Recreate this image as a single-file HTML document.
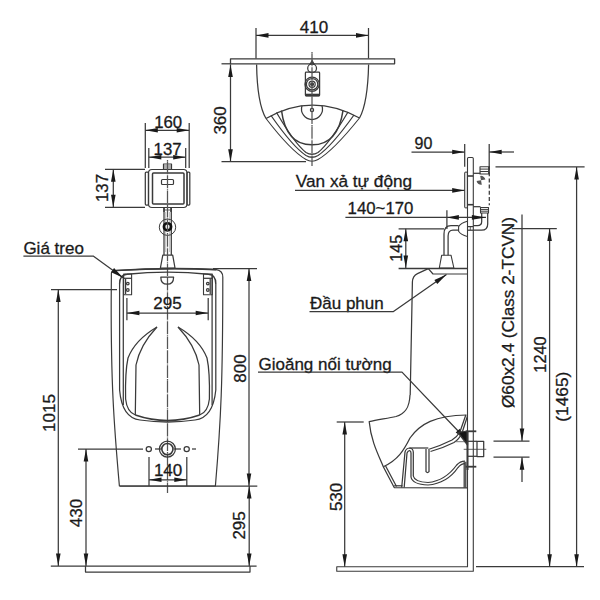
<!DOCTYPE html>
<html><head><meta charset="utf-8"><style>
html,body{margin:0;padding:0;background:#fff;}
svg{display:block;}
</style></head><body>
<svg width="600" height="600" viewBox="0 0 600 600">
<rect width="600" height="600" fill="#fff"/>
<g fill="none" stroke="#3a3a3a" stroke-linecap="butt" stroke-linejoin="round">
<line x1="256" y1="28" x2="256" y2="58.4" stroke-width="1.25" />
<line x1="368.5" y1="28" x2="368.5" y2="58.4" stroke-width="1.25" />
<line x1="256" y1="35.4" x2="368.5" y2="35.4" stroke-width="1.25" />
<path d="M256.00,35.40 L268.50,33.10 L268.50,37.70 Z" fill="#1a1a1a" stroke="none"/>
<path d="M368.50,35.40 L356.00,37.70 L356.00,33.10 Z" fill="#1a1a1a" stroke="none"/>
<text fill="#1a1a1a" stroke="#1a1a1a" stroke-width="0.3" font-family="Liberation Sans, sans-serif" dominant-baseline="alphabetic" x="314" y="32.5" font-size="17" text-anchor="middle" >410</text>
<rect x="230.5" y="58.8" width="164.10" height="5.00" rx="0" stroke-width="1.3" />
<line x1="221.5" y1="63.8" x2="230.5" y2="63.8" stroke-width="1.25" />
<line x1="230.5" y1="64.4" x2="230.5" y2="161.7" stroke-width="1.25" />
<path d="M230.50,64.40 L232.80,76.90 L228.20,76.90 Z" fill="#1a1a1a" stroke="none"/>
<path d="M230.50,161.70 L228.20,149.20 L232.80,149.20 Z" fill="#1a1a1a" stroke="none"/>
<line x1="221.5" y1="161.7" x2="306" y2="161.7" stroke-width="1.25" />
<text fill="#1a1a1a" stroke="#1a1a1a" stroke-width="0.3" font-family="Liberation Sans, sans-serif" dominant-baseline="alphabetic" x="226.4" y="120.4" font-size="17" text-anchor="middle" transform="rotate(-90 226.4 120.4)" >360</text>
<path d="M256.6,64.4 C257,92 260,108 266,118.5" stroke-width="1.25" />
<path d="M368.6,64.4 C368,92 365,108 359.5,118" stroke-width="1.25" />
<path d="M266,118.5 Q312,92 359.5,118" stroke-width="1.25" />
<path d="M266,118.5 Q291,151 306,159.5 Q312,163 318,159.5 Q333,151 359.5,118" stroke-width="1.1" />
<path d="M271,115.5 Q293,147 306,155.5 Q312,159 318,155.5 Q331,147 354,115" stroke-width="1.25" />
<path d="M276.5,112.5 Q295,144 306,152.5 Q312,156 318,152.5 Q329,144 348,112" stroke-width="1.25" />
<path d="M281.5,110.5 Q286,145 312,144.8 Q338,145 343,110.5" stroke-width="1.5" />
<path d="M302,105.8 A10.5,10.5 0 1 0 322,105.8" stroke-width="1.25" />
<circle cx="312" cy="110" r="1.6" stroke-width="1.25" />
<circle cx="312.1" cy="68.2" r="4.4" stroke-width="1.25" />
<path d="M310.3,64 L312.1,60.5 L313.9,64 Z" stroke-width="1.25" fill="#111"/>
<rect x="305.4" y="72.1" width="14.20" height="23.70" rx="0.8" stroke-width="1.25" />
<line x1="305.4" y1="95" x2="319.6" y2="95" stroke-width="2.6" />
<circle cx="312.1" cy="84.2" r="7.1" stroke-width="1.25" />
<circle cx="312.1" cy="84.2" r="5.7" stroke-width="1.25" />
<circle cx="312.1" cy="84.2" r="3.1" stroke-width="1.2" />
<circle cx="312.1" cy="84.2" r="1.4" stroke-width="1.25" fill="#222"/>
<line x1="312" y1="52" x2="312" y2="166" stroke-width="1.25" stroke-dasharray="12.5,1,0.8,0.3" stroke-dashoffset="13.4" stroke="#555"/>
<line x1="145.3" y1="123" x2="145.3" y2="168" stroke-width="1.25" />
<line x1="189.2" y1="123" x2="189.2" y2="168" stroke-width="1.25" />
<line x1="145.3" y1="130.3" x2="189.2" y2="130.3" stroke-width="1.25" />
<path d="M145.30,130.30 L157.80,128.00 L157.80,132.60 Z" fill="#1a1a1a" stroke="none"/>
<path d="M189.20,130.30 L176.70,132.60 L176.70,128.00 Z" fill="#1a1a1a" stroke="none"/>
<text fill="#1a1a1a" stroke="#1a1a1a" stroke-width="0.3" font-family="Liberation Sans, sans-serif" dominant-baseline="alphabetic" x="168.2" y="127.8" font-size="16.8" text-anchor="middle" >160</text>
<line x1="148.8" y1="148" x2="148.8" y2="168" stroke-width="1.25" />
<line x1="185.7" y1="148" x2="185.7" y2="168" stroke-width="1.25" />
<line x1="148.8" y1="157.2" x2="185.7" y2="157.2" stroke-width="1.25" />
<path d="M148.80,157.20 L161.30,154.90 L161.30,159.50 Z" fill="#1a1a1a" stroke="none"/>
<path d="M185.70,157.20 L173.20,159.50 L173.20,154.90 Z" fill="#1a1a1a" stroke="none"/>
<text fill="#1a1a1a" stroke="#1a1a1a" stroke-width="0.3" font-family="Liberation Sans, sans-serif" dominant-baseline="alphabetic" x="167.6" y="154.5" font-size="16.8" text-anchor="middle" >137</text>
<rect x="145.3" y="172" width="3.20" height="33.00" rx="1" stroke-width="1.25" />
<rect x="187" y="172" width="2.80" height="33.00" rx="1" stroke-width="1.25" />
<rect x="148.5" y="169.5" width="38.50" height="38.00" rx="3.5" stroke-width="1.2" />
<rect x="152.5" y="173" width="31.50" height="31.00" rx="1" stroke-width="1.5" />
<rect x="161.5" y="179.5" width="12.00" height="5.00" rx="1" stroke-width="1.2" />
<rect x="163.5" y="164" width="8.00" height="5.50" rx="0" stroke-width="1.2" />
<line x1="163.5" y1="166" x2="171.5" y2="166" stroke-width="0.8" />
<line x1="163.5" y1="168" x2="171.5" y2="168" stroke-width="0.8" />
<line x1="164" y1="207.5" x2="164" y2="212" stroke-width="1.4" />
<line x1="171" y1="207.5" x2="171" y2="212" stroke-width="1.4" />
<line x1="164" y1="210" x2="171" y2="210" stroke-width="0.8" />
<line x1="105" y1="169.3" x2="145" y2="169.3" stroke-width="1.25" />
<line x1="105" y1="207.3" x2="145" y2="207.3" stroke-width="1.25" />
<line x1="113.3" y1="169.3" x2="113.3" y2="207.3" stroke-width="1.25" />
<path d="M113.30,169.30 L115.60,181.80 L111.00,181.80 Z" fill="#1a1a1a" stroke="none"/>
<path d="M113.30,207.30 L111.00,194.80 L115.60,194.80 Z" fill="#1a1a1a" stroke="none"/>
<text fill="#1a1a1a" stroke="#1a1a1a" stroke-width="0.3" font-family="Liberation Sans, sans-serif" dominant-baseline="alphabetic" x="108" y="188" font-size="16.8" text-anchor="middle" transform="rotate(-90 108 188)" >137</text>
<line x1="164" y1="207.3" x2="164" y2="255" stroke-width="1.25" />
<line x1="171.3" y1="207.3" x2="171.3" y2="255" stroke-width="1.25" />
<line x1="165.6" y1="212" x2="165.6" y2="252" stroke-width="0.5" stroke="#888"/>
<line x1="169.6" y1="212" x2="169.6" y2="252" stroke-width="0.5" stroke="#888"/>
<circle cx="167.5" cy="227.2" r="8.2" stroke-width="1" />
<circle cx="167.5" cy="226.8" r="3.6" stroke-width="2.6" stroke="#111"/>
<path d="M162.8,255.2 L172.7,255.2 L175,268 L160.4,268 Z" stroke-width="1.25" />
<line x1="167.5" y1="160" x2="167.5" y2="493" stroke-width="1.25" stroke-dasharray="12.5,1,0.8,0.3" stroke-dashoffset="13.4" stroke="#555"/>
<path d="M119.4,486 C113.5,420 111,380 111.2,300 L111.4,273 Q111.6,270.5 116,270.5 Q167.5,267.2 216.3,269.6 Q222.8,270.5 222.8,277.2 C222.8,380 221,420 215.4,486 Z" stroke-width="1.2" />
<path d="M116,270.5 Q167.5,267.2 216.3,269.6" stroke-width="1.7" />
<path d="M119.6,284 Q119.6,274.5 127,274.2 Q167.5,270 208.5,274.2 Q215.8,274.5 215.8,284" stroke-width="1.4" />
<path d="M119.6,284 L119.6,390 Q122,418 140,420 Q167.5,424 195,420 Q213,418 215.8,390 L215.8,284" stroke-width="1.25" />
<line x1="123.3" y1="276" x2="123.3" y2="405" stroke-width="1.25" />
<line x1="212.1" y1="276" x2="212.1" y2="405" stroke-width="1.25" />
<rect x="123.7" y="274" width="7.90" height="20.70" rx="0" stroke-width="1.1" />
<rect x="203.5" y="274" width="8.80" height="20.70" rx="0" stroke-width="1.1" />
<line x1="123.7" y1="278.3" x2="131.6" y2="278.3" stroke-width="1.25" />
<line x1="203.5" y1="278.3" x2="212.3" y2="278.3" stroke-width="1.25" />
<line x1="125.6" y1="279" x2="125.6" y2="294" stroke-width="1.25" />
<line x1="210.2" y1="279" x2="210.2" y2="294" stroke-width="1.25" />
<circle cx="127.8" cy="283.6" r="1.3" stroke-width="1.25" />
<circle cx="127.8" cy="290" r="1.3" stroke-width="1.25" />
<circle cx="207.8" cy="283.6" r="1.3" stroke-width="1.25" />
<circle cx="207.8" cy="290" r="1.3" stroke-width="1.25" />
<path d="M160.8,277.2 L173.6,277.2 Q173.6,284.2 167.2,284.2 Q160.8,284.2 160.8,277.2 Z" stroke-width="1.25" />
<path d="M157,327 Q135,340 128,358 Q125,372 125.6,399 Q127,412 135.3,415" stroke-width="1.25" />
<path d="M157,327 Q140,345 136,365 L135.3,415" stroke-width="1.25" />
<path d="M178,327 Q200,340 207,358 Q210,372 209.4,399 Q208,412 199.7,415" stroke-width="1.25" />
<path d="M178,327 Q195,345 199,365 L199.7,415" stroke-width="1.25" />
<path d="M135.3,415 Q167.5,426 199.7,415" stroke-width="1.4" />
<line x1="126.9" y1="298" x2="126.9" y2="320.3" stroke-width="1.25" />
<line x1="208.2" y1="298" x2="208.2" y2="320.3" stroke-width="1.25" />
<line x1="126.9" y1="313" x2="208.2" y2="313" stroke-width="1.25" />
<path d="M126.90,313.00 L139.40,310.70 L139.40,315.30 Z" fill="#1a1a1a" stroke="none"/>
<path d="M208.20,313.00 L195.70,315.30 L195.70,310.70 Z" fill="#1a1a1a" stroke="none"/>
<text fill="#1a1a1a" stroke="#1a1a1a" stroke-width="0.3" font-family="Liberation Sans, sans-serif" dominant-baseline="alphabetic" x="167.5" y="309.2" font-size="17" text-anchor="middle" >295</text>
<circle cx="167.4" cy="449.1" r="8" stroke-width="1.25" />
<circle cx="167.4" cy="449.1" r="5.6" stroke-width="1.6" />
<circle cx="148.8" cy="449.1" r="2.6" stroke-width="1.25" />
<circle cx="186.7" cy="449.1" r="2.6" stroke-width="1.25" />
<line x1="78" y1="449" x2="143" y2="449" stroke-width="1.25" />
<line x1="155" y1="449" x2="161" y2="449" stroke-width="1.25" />
<line x1="174" y1="449" x2="181" y2="449" stroke-width="1.25" />
<line x1="192" y1="449" x2="196" y2="449" stroke-width="1.25" />
<line x1="149" y1="457" x2="149" y2="486" stroke-width="1.25" />
<line x1="186.8" y1="457" x2="186.8" y2="486" stroke-width="1.25" />
<line x1="149" y1="479.8" x2="186.8" y2="479.8" stroke-width="1.25" />
<path d="M149.00,479.80 L161.50,477.50 L161.50,482.10 Z" fill="#1a1a1a" stroke="none"/>
<path d="M186.80,479.80 L174.30,482.10 L174.30,477.50 Z" fill="#1a1a1a" stroke="none"/>
<text fill="#1a1a1a" stroke="#1a1a1a" stroke-width="0.3" font-family="Liberation Sans, sans-serif" dominant-baseline="alphabetic" x="168.1" y="475.8" font-size="17" text-anchor="middle" >140</text>
<line x1="119.8" y1="486" x2="257.3" y2="486" stroke-width="1.25" />
<text fill="#1a1a1a" stroke="#1a1a1a" stroke-width="0.3" font-family="Liberation Sans, sans-serif" dominant-baseline="alphabetic" x="23.4" y="253.8" font-size="17" text-anchor="start" >Giá treo</text>
<path d="M23.4,256 L93.2,256 L123.1,277.8" stroke-width="1.25" />
<path d="M123.10,277.80 L111.12,272.16 L114.07,268.12 Z" fill="#1a1a1a" stroke="none"/>
<line x1="51" y1="289.6" x2="117" y2="289.6" stroke-width="1.25" />
<line x1="58.3" y1="289.6" x2="58.3" y2="566" stroke-width="1.25" />
<path d="M58.30,289.60 L60.60,302.10 L56.00,302.10 Z" fill="#1a1a1a" stroke="none"/>
<path d="M58.30,566.00 L56.00,553.50 L60.60,553.50 Z" fill="#1a1a1a" stroke="none"/>
<text fill="#1a1a1a" stroke="#1a1a1a" stroke-width="0.3" font-family="Liberation Sans, sans-serif" dominant-baseline="alphabetic" x="54.8" y="413" font-size="17" text-anchor="middle" transform="rotate(-90 54.8 413)" >1015</text>
<line x1="86" y1="449" x2="86" y2="566" stroke-width="1.25" />
<path d="M86.00,449.00 L88.30,461.50 L83.70,461.50 Z" fill="#1a1a1a" stroke="none"/>
<path d="M86.00,566.00 L83.70,553.50 L88.30,553.50 Z" fill="#1a1a1a" stroke="none"/>
<text fill="#1a1a1a" stroke="#1a1a1a" stroke-width="0.3" font-family="Liberation Sans, sans-serif" dominant-baseline="alphabetic" x="81.6" y="513" font-size="17" text-anchor="middle" transform="rotate(-90 81.6 513)" >430</text>
<line x1="50.8" y1="566" x2="256.6" y2="566" stroke-width="1.25" />
<path d="M85.5,566 L85.5,572 L250,572 L250,566" stroke-width="1.25" />
<line x1="213" y1="268.5" x2="257" y2="268.5" stroke-width="1.25" />
<line x1="249" y1="268.5" x2="249" y2="486" stroke-width="1.25" />
<path d="M249.00,268.50 L251.30,281.00 L246.70,281.00 Z" fill="#1a1a1a" stroke="none"/>
<path d="M249.00,486.00 L246.70,473.50 L251.30,473.50 Z" fill="#1a1a1a" stroke="none"/>
<text fill="#1a1a1a" stroke="#1a1a1a" stroke-width="0.3" font-family="Liberation Sans, sans-serif" dominant-baseline="alphabetic" x="245.8" y="368.5" font-size="17" text-anchor="middle" transform="rotate(-90 245.8 368.5)" >800</text>
<line x1="249.2" y1="486" x2="249.2" y2="566" stroke-width="1.25" />
<path d="M249.20,486.00 L251.50,498.50 L246.90,498.50 Z" fill="#1a1a1a" stroke="none"/>
<path d="M249.20,566.00 L246.90,553.50 L251.50,553.50 Z" fill="#1a1a1a" stroke="none"/>
<text fill="#1a1a1a" stroke="#1a1a1a" stroke-width="0.3" font-family="Liberation Sans, sans-serif" dominant-baseline="alphabetic" x="245.5" y="525.4" font-size="17" text-anchor="middle" transform="rotate(-90 245.5 525.4)" >295</text>
<path d="M467.5,566.7 L467.5,158.5 Q467.5,157.5 468.5,157.5 L472.3,157.5 Q473.3,157.5 473.3,158.5 L473.3,571.2 L336.75,571.2 L336.75,566.7 Z" stroke-width="1.1" />
<line x1="476" y1="566.7" x2="584" y2="566.7" stroke-width="1.25" />
<line x1="464.7" y1="144" x2="464.7" y2="166.7" stroke-width="1.25" />
<line x1="489.2" y1="144" x2="489.2" y2="174.2" stroke-width="1.25" />
<line x1="411.5" y1="152" x2="464.7" y2="152" stroke-width="1.25" />
<path d="M464.70,152.00 L452.20,154.30 L452.20,149.70 Z" fill="#1a1a1a" stroke="none"/>
<line x1="489.2" y1="152" x2="514" y2="152" stroke-width="1.25" />
<path d="M489.20,152.00 L501.70,149.70 L501.70,154.30 Z" fill="#1a1a1a" stroke="none"/>
<text fill="#1a1a1a" stroke="#1a1a1a" stroke-width="0.3" font-family="Liberation Sans, sans-serif" dominant-baseline="alphabetic" x="423.5" y="148.5" font-size="16" text-anchor="middle" >90</text>
<rect x="464.7" y="172" width="2.70" height="36.00" rx="1.2" stroke-width="1.1" />
<line x1="467.5" y1="176" x2="473.3" y2="176" stroke-width="1.6" />
<line x1="467.5" y1="204.7" x2="473.3" y2="204.7" stroke-width="1.6" />
<line x1="473.3" y1="173.3" x2="480.5" y2="173.3" stroke-width="1.25" />
<line x1="473.3" y1="206.7" x2="480.5" y2="206.7" stroke-width="1.25" />
<line x1="489.3" y1="166" x2="489.3" y2="205.3" stroke-width="1.25" stroke-dasharray="4,2.2"/>
<rect x="480" y="166.7" width="8.70" height="7.30" rx="0" stroke-width="1.1" />
<line x1="480" y1="169.1" x2="488.7" y2="169.1" stroke-width="1" />
<line x1="480" y1="171.5" x2="488.7" y2="171.5" stroke-width="1" />
<rect x="480.5" y="207.5" width="8.00" height="5.50" rx="0" stroke-width="1.1" />
<line x1="480.5" y1="209.4" x2="488.5" y2="209.4" stroke-width="1" />
<line x1="480.5" y1="211.2" x2="488.5" y2="211.2" stroke-width="1" />
<path d="M481,180.3 L480.2,175.9 A4.5,4.5 0 0 1 485.4,179.5 Z M481,180.3 L476.6,181.1 A4.5,4.5 0 0 0 481.8,184.7 Z" stroke-width="1.25" fill="#555" stroke="none"/>
<path d="M487.7,213 L487.7,224 Q487.7,230.2 481.5,230.2 L473.3,230.2" stroke-width="1.25" />
<path d="M481.7,213 L481.7,221.5 Q481.7,225.6 477.5,225.6 L473.3,225.6" stroke-width="1.25" />
<line x1="467.5" y1="226.6" x2="473.3" y2="226.6" stroke-width="1.25" />
<line x1="467.5" y1="230.2" x2="473.3" y2="230.2" stroke-width="1.25" />
<line x1="470.3" y1="226.6" x2="470.3" y2="230.2" stroke-width="0.8" />
<line x1="495.5" y1="166.8" x2="584.6" y2="166.8" stroke-width="1.25" />
<text fill="#1a1a1a" stroke="#1a1a1a" stroke-width="0.3" font-family="Liberation Sans, sans-serif" dominant-baseline="alphabetic" x="295.8" y="187" font-size="17.2" text-anchor="start" >Van xả tự động</text>
<line x1="295" y1="190.4" x2="464.7" y2="190.4" stroke-width="1.25" />
<path d="M464.70,190.40 L452.20,192.70 L452.20,188.10 Z" fill="#1a1a1a" stroke="none"/>
<text fill="#1a1a1a" stroke="#1a1a1a" stroke-width="0.3" font-family="Liberation Sans, sans-serif" dominant-baseline="alphabetic" x="347.6" y="214" font-size="16.8" text-anchor="start" >140~170</text>
<line x1="345.4" y1="217.4" x2="486" y2="217.4" stroke-width="1.25" />
<path d="M446.90,217.40 L458.90,215.10 L458.90,219.70 Z" fill="#1a1a1a" stroke="none"/>
<path d="M485.90,217.40 L471.90,219.70 L471.90,215.10 Z" fill="#1a1a1a" stroke="none"/>
<line x1="446.9" y1="210.2" x2="446.9" y2="228.9" stroke-width="1.25" />
<path d="M467.3,221.3 Q461,223 458.6,226.6 L458.6,231.3 Q461,235 467.3,236.5" stroke-width="1.1" />
<path d="M458.6,225.6 L451,225.6 Q444,225.6 444,234 L444,255.2" stroke-width="1.25" />
<path d="M458.6,230 L453,230 Q448.1,230 448.1,236 L448.1,255.2" stroke-width="1.25" />
<path d="M441.7,255.2 L451,255.2 L453.9,268 L439.3,268 Z" stroke-width="1.1" />
<line x1="398.6" y1="228.9" x2="444" y2="228.9" stroke-width="1.25" />
<line x1="398.6" y1="268.6" x2="467.5" y2="268.6" stroke-width="1.5" />
<line x1="405.8" y1="228.7" x2="405.8" y2="268" stroke-width="1.25" />
<path d="M405.80,228.70 L408.10,241.20 L403.50,241.20 Z" fill="#1a1a1a" stroke="none"/>
<path d="M405.80,268.00 L403.50,255.50 L408.10,255.50 Z" fill="#1a1a1a" stroke="none"/>
<text fill="#1a1a1a" stroke="#1a1a1a" stroke-width="0.3" font-family="Liberation Sans, sans-serif" dominant-baseline="alphabetic" x="402" y="248.3" font-size="16" text-anchor="middle" transform="rotate(-90 402 248.3)" >145</text>
<path d="M428.3,268.6 L417.5,273.6 Q412.6,276 412.4,282 L410.2,395" stroke-width="1.25" />
<path d="M428.3,268.6 L433,274 L467.5,274" stroke-width="1.2" />
<text fill="#1a1a1a" stroke="#1a1a1a" stroke-width="0.3" font-family="Liberation Sans, sans-serif" dominant-baseline="alphabetic" x="310" y="309.2" font-size="17" text-anchor="start" >Đầu phun</text>
<path d="M309.5,311.7 L393.1,311.7 L446.5,274.5" stroke-width="1.25" />
<path d="M446.50,274.50 L437.26,283.98 L434.40,279.88 Z" fill="#1a1a1a" stroke="none"/>
<text fill="#1a1a1a" stroke="#1a1a1a" stroke-width="0.3" font-family="Liberation Sans, sans-serif" dominant-baseline="alphabetic" x="258.5" y="370.1" font-size="17" text-anchor="start" >Gioăng nối tường</text>
<path d="M258,372.1 L402,372.1 L466.7,440" stroke-width="1.25" />
<path d="M466.70,440.00 L455.70,432.52 L459.76,428.66 Z" fill="#1a1a1a" stroke="none"/>
<path d="M410,395 C409.5,408 405,414 396,416.5 C388,418.5 378,419.5 369.2,421.7 C371,440 377,452 383.3,466.7 L394.2,487.5 L467.5,487.8" stroke-width="1.25" />
<line x1="385.6" y1="466" x2="396.5" y2="486.5" stroke-width="1.25" />
<path d="M383.3,466.7 C398,460 404,450 410,438 C420,424 435,415.5 466.5,415" stroke-width="1.25" />
<path d="M465.8,415 L460,431.7 Q457,437 452,440 Q440,446 428.3,449.5" stroke-width="1.25" />
<path d="M467.5,416 L462,433 Q459,439.5 454,442.5 Q442,448.5 430.5,451.5" stroke-width="1.25" />
<line x1="455.8" y1="441.7" x2="467.5" y2="441.7" stroke-width="1" stroke="#777"/>
<path d="M458,432.5 L467.5,431 L467.5,445 Z" stroke-width="1.25" fill="#151515"/>
<path d="M401.7,487.5 L405,452 Q406,448.3 409.5,448 Q413,448.3 413.3,452 L413.3,476 Q414.5,482 428,482.5 Q445,481 456.7,465 Q460,461 465,461" stroke-width="1.25" />
<path d="M404.2,487.5 L407,453 Q408,450.5 409.5,450.5 Q411,451 411,453 L411,477 Q412.5,484.5 428,485 Q447,483.5 458,467.5 Q461,463.5 465,463.5" stroke-width="1.25" />
<path d="M409.5,448 L428.3,448" stroke-width="1.25" />
<path d="M426,449 L426,471.7 Q427.5,473.5 429,471.7 L429,450" stroke-width="1.25" />
<line x1="394.2" y1="485.8" x2="402.5" y2="485.8" stroke-width="1.25" />
<line x1="464.2" y1="461.7" x2="464.2" y2="487.8" stroke-width="1.25" />
<line x1="465.8" y1="461.7" x2="465.8" y2="487.8" stroke-width="1.25" />
<line x1="465.7" y1="431.3" x2="476.3" y2="431.3" stroke-width="1.8" />
<line x1="465.7" y1="466.7" x2="476.3" y2="466.7" stroke-width="1.8" />
<line x1="467.5" y1="432" x2="467.5" y2="470" stroke-width="2" />
<line x1="463.7" y1="449.3" x2="486.3" y2="449.3" stroke-width="0.8" />
<rect x="477" y="441.3" width="6.70" height="15.20" rx="0" stroke-width="1.25" />
<line x1="467.5" y1="441.3" x2="477" y2="441.3" stroke-width="1.25" />
<line x1="467.5" y1="456.3" x2="477" y2="456.3" stroke-width="1.25" />
<line x1="336.7" y1="422" x2="363.7" y2="422" stroke-width="1.25" />
<line x1="344.7" y1="422" x2="344.7" y2="566.7" stroke-width="1.25" />
<path d="M344.70,422.00 L347.00,434.50 L342.40,434.50 Z" fill="#1a1a1a" stroke="none"/>
<path d="M344.70,566.70 L342.40,554.20 L347.00,554.20 Z" fill="#1a1a1a" stroke="none"/>
<text fill="#1a1a1a" stroke="#1a1a1a" stroke-width="0.3" font-family="Liberation Sans, sans-serif" dominant-baseline="alphabetic" x="341.6" y="496.9" font-size="17" text-anchor="middle" transform="rotate(-90 341.6 496.9)" >530</text>
<line x1="493.5" y1="441" x2="529.5" y2="441" stroke-width="1.25" />
<line x1="493.5" y1="457.2" x2="529.5" y2="457.2" stroke-width="1.25" />
<line x1="522" y1="214.5" x2="522" y2="441" stroke-width="1.25" />
<path d="M522.00,441.00 L519.70,428.50 L524.30,428.50 Z" fill="#1a1a1a" stroke="none"/>
<line x1="522" y1="457.2" x2="522" y2="482" stroke-width="1.25" />
<path d="M522.00,457.20 L524.30,469.70 L519.70,469.70 Z" fill="#1a1a1a" stroke="none"/>
<text fill="#1a1a1a" stroke="#1a1a1a" stroke-width="0.3" font-family="Liberation Sans, sans-serif" dominant-baseline="alphabetic" x="514.2" y="312.5" font-size="17.2" text-anchor="middle" transform="rotate(-90 514.2 312.5)" >Ø60x2.4 (Class 2-TCVN)</text>
<line x1="511.8" y1="228.7" x2="556.8" y2="228.7" stroke-width="1.25" />
<line x1="549.6" y1="228.6" x2="549.6" y2="566.7" stroke-width="1.25" />
<path d="M549.60,228.60 L551.90,241.10 L547.30,241.10 Z" fill="#1a1a1a" stroke="none"/>
<path d="M549.60,566.70 L547.30,554.20 L551.90,554.20 Z" fill="#1a1a1a" stroke="none"/>
<text fill="#1a1a1a" stroke="#1a1a1a" stroke-width="0.3" font-family="Liberation Sans, sans-serif" dominant-baseline="alphabetic" x="546" y="354.5" font-size="16.4" text-anchor="middle" transform="rotate(-90 546 354.5)" >1240</text>
<line x1="576.6" y1="167" x2="576.6" y2="566.7" stroke-width="1.25" />
<path d="M576.60,167.00 L578.90,179.50 L574.30,179.50 Z" fill="#1a1a1a" stroke="none"/>
<path d="M576.60,566.70 L574.30,554.20 L578.90,554.20 Z" fill="#1a1a1a" stroke="none"/>
<text fill="#1a1a1a" stroke="#1a1a1a" stroke-width="0.3" font-family="Liberation Sans, sans-serif" dominant-baseline="alphabetic" x="568.3" y="396.7" font-size="17.3" text-anchor="middle" transform="rotate(-90 568.3 396.7)" >(1465)</text>
</g>
</svg>
</body></html>
